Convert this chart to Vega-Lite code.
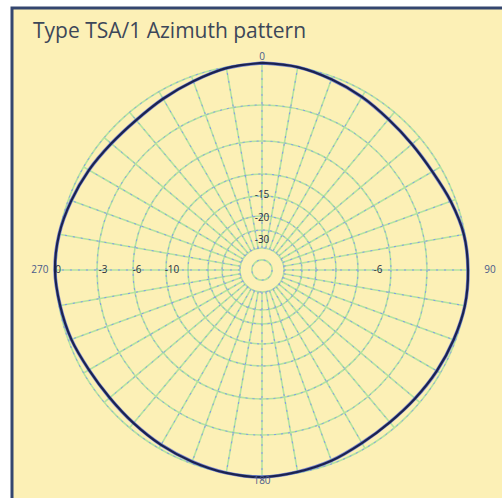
{
  "$schema": "https://vega.github.io/schema/vega-lite/v6.json",
  "autosize": {"type": "none"},
  "padding": {"left": 12, "top": 8, "right": 0, "bottom": 0},
  "width": 494,
  "height": 494,
  "background": "#ffffff",
  "config": {
    "view": {"fill": "#fcf0b6", "stroke": "#34466f", "strokeWidth": 3},
    "text": {"font": "Open Sans"}
  },
  "title": {
    "text": "Type TSA/1 Azimuth pattern",
    "anchor": "start",
    "frame": "group",
    "orient": "top",
    "offset": -28,
    "dx": 21,
    "dy": 23,
    "baseline": "alphabetic",
    "font": "Open Sans",
    "fontSize": 21,
    "fontWeight": "normal",
    "color": "#3c4759"
  },
  "datasets": {
    "rings": [
      {"db": 0, "r": 100},
      {"db": -3, "r": 80.1},
      {"db": -6, "r": 62.6},
      {"db": -10, "r": 46.6},
      {"db": -15, "r": 35.9},
      {"db": -20, "r": 26.2},
      {"db": -25, "r": 19.4},
      {"db": -30, "r": 10.7},
      {"db": -40, "r": 4.9}
    ],
    "spokes": [
      {"a": 0}, {"a": 10}, {"a": 20}, {"a": 30}, {"a": 40}, {"a": 50},
      {"a": 60}, {"a": 70}, {"a": 80}, {"a": 90}, {"a": 100}, {"a": 110},
      {"a": 120}, {"a": 130}, {"a": 140}, {"a": 150}, {"a": 160}, {"a": 170},
      {"a": 180}, {"a": 190}, {"a": 200}, {"a": 210}, {"a": 220}, {"a": 230},
      {"a": 240}, {"a": 250}, {"a": 260}, {"a": 270}, {"a": 280}, {"a": 290},
      {"a": 300}, {"a": 310}, {"a": 320}, {"a": 330}, {"a": 340}, {"a": 350}
    ],
    "pattern": [
      {"a": 0, "r": 100.5}, {"a": 10, "r": 100}, {"a": 20, "r": 98.5},
      {"a": 30, "r": 97}, {"a": 40, "r": 95.5}, {"a": 50, "r": 95},
      {"a": 60, "r": 95.5}, {"a": 70, "r": 97.5}, {"a": 80, "r": 99.5},
      {"a": 90, "r": 100}, {"a": 100, "r": 100}, {"a": 110, "r": 99},
      {"a": 120, "r": 98}, {"a": 130, "r": 97}, {"a": 140, "r": 96.5},
      {"a": 150, "r": 97}, {"a": 160, "r": 98.5}, {"a": 170, "r": 99.5},
      {"a": 180, "r": 100.5}, {"a": 190, "r": 100}, {"a": 200, "r": 99},
      {"a": 210, "r": 98}, {"a": 220, "r": 97}, {"a": 230, "r": 96.5},
      {"a": 240, "r": 97}, {"a": 250, "r": 98.5}, {"a": 260, "r": 99.5},
      {"a": 270, "r": 100.5}, {"a": 280, "r": 100}, {"a": 290, "r": 98.5},
      {"a": 300, "r": 97}, {"a": 310, "r": 95.5}, {"a": 320, "r": 95},
      {"a": 330, "r": 96}, {"a": 340, "r": 97.5}, {"a": 350, "r": 99.5},
      {"a": 360, "r": 100.5}
    ],
    "labels": [
      {"t": "0", "a": 0, "r": 103.4, "k": "card"},
      {"t": "90", "a": 90, "r": 110.7, "k": "card"},
      {"t": "180", "a": 180, "r": 102.4, "k": "card"},
      {"t": "270", "a": 270, "r": 107.8, "k": "card"},
      {"t": "0", "a": 270, "r": 99, "k": "db"},
      {"t": "-3", "a": 270, "r": 77.2, "k": "db"},
      {"t": "-6", "a": 270, "r": 60.7, "k": "db"},
      {"t": "-10", "a": 270, "r": 43.7, "k": "db"},
      {"t": "-15", "a": 0, "r": 36.4, "k": "db"},
      {"t": "-20", "a": 0, "r": 25.2, "k": "db"},
      {"t": "-30", "a": 0, "r": 14.6, "k": "db"},
      {"t": "-6", "a": 90, "r": 56.3, "k": "db"}
    ]
  },
  "layer": [
    {
      "data": {"name": "rings"},
      "mark": {"type": "point", "shape": "circle", "filled": false, "stroke": "#b3e3a0", "strokeWidth": 1.6, "opacity": 1},
      "encoding": {
        "x": {"datum": 0, "type": "quantitative", "scale": {"domain": [-121.36, 118.45], "nice": false, "zero": false}, "axis": null},
        "y": {"datum": 0, "type": "quantitative", "scale": {"domain": [-112.62, 127.18], "nice": false, "zero": false}, "axis": null},
        "size": {"field": "r", "type": "quantitative", "scale": {"type": "pow", "exponent": 2, "domain": [0, 100], "range": [0, 169744]}, "legend": null}
      }
    },
    {
      "data": {"name": "spokes"},
      "transform": [
        {"calculate": "10.7 * sin(datum.a * PI / 180)", "as": "x0"},
        {"calculate": "10.7 * cos(datum.a * PI / 180)", "as": "y0"},
        {"calculate": "100 * sin(datum.a * PI / 180)", "as": "x1"},
        {"calculate": "100 * cos(datum.a * PI / 180)", "as": "y1"}
      ],
      "mark": {"type": "rule", "stroke": "#b3e3a0", "strokeWidth": 1.6},
      "encoding": {
        "x": {"field": "x0", "type": "quantitative"},
        "y": {"field": "y0", "type": "quantitative"},
        "x2": {"field": "x1"},
        "y2": {"field": "y1"}
      }
    },
    {
      "data": {"name": "rings"},
      "mark": {"type": "point", "shape": "circle", "filled": false, "stroke": "#8494f0", "strokeWidth": 1, "strokeDash": [2, 5], "opacity": 1},
      "encoding": {
        "x": {"datum": 0, "type": "quantitative"},
        "y": {"datum": 0, "type": "quantitative"},
        "size": {"field": "r", "type": "quantitative", "legend": null}
      }
    },
    {
      "data": {"name": "spokes"},
      "transform": [
        {"calculate": "10.7 * sin(datum.a * PI / 180)", "as": "x0"},
        {"calculate": "10.7 * cos(datum.a * PI / 180)", "as": "y0"},
        {"calculate": "100 * sin(datum.a * PI / 180)", "as": "x1"},
        {"calculate": "100 * cos(datum.a * PI / 180)", "as": "y1"}
      ],
      "mark": {"type": "rule", "stroke": "#8494f0", "strokeWidth": 1, "strokeDash": [2, 6]},
      "encoding": {
        "x": {"field": "x0", "type": "quantitative"},
        "y": {"field": "y0", "type": "quantitative"},
        "x2": {"field": "x1"},
        "y2": {"field": "y1"}
      }
    },
    {
      "data": {"name": "pattern"},
      "transform": [
        {"calculate": "datum.r * sin(datum.a * PI / 180)", "as": "px"},
        {"calculate": "datum.r * cos(datum.a * PI / 180)", "as": "py"}
      ],
      "mark": {"type": "line", "stroke": "#5b6bd6", "strokeWidth": 3.5, "interpolate": "cardinal", "opacity": 0.8},
      "encoding": {
        "x": {"field": "px", "type": "quantitative"},
        "y": {"field": "py", "type": "quantitative"},
        "order": {"field": "a", "type": "quantitative"}
      }
    },
    {
      "data": {"name": "pattern"},
      "transform": [
        {"calculate": "datum.r * sin(datum.a * PI / 180)", "as": "px"},
        {"calculate": "datum.r * cos(datum.a * PI / 180)", "as": "py"}
      ],
      "mark": {"type": "line", "stroke": "#1b2350", "strokeWidth": 2.2, "interpolate": "cardinal"},
      "encoding": {
        "x": {"field": "px", "type": "quantitative"},
        "y": {"field": "py", "type": "quantitative"},
        "order": {"field": "a", "type": "quantitative"}
      }
    },
    {
      "data": {"name": "labels"},
      "transform": [
        {"calculate": "datum.r * sin(datum.a * PI / 180)", "as": "px"},
        {"calculate": "datum.r * cos(datum.a * PI / 180)", "as": "py"}
      ],
      "mark": {"type": "text", "fontSize": 10, "align": "center", "baseline": "middle"},
      "encoding": {
        "x": {"field": "px", "type": "quantitative"},
        "y": {"field": "py", "type": "quantitative"},
        "text": {"field": "t"},
        "color": {"field": "k", "type": "nominal", "scale": {"domain": ["card", "db"], "range": ["#4a5a8a", "#2a2f40"]}, "legend": null}
      }
    }
  ]
}
